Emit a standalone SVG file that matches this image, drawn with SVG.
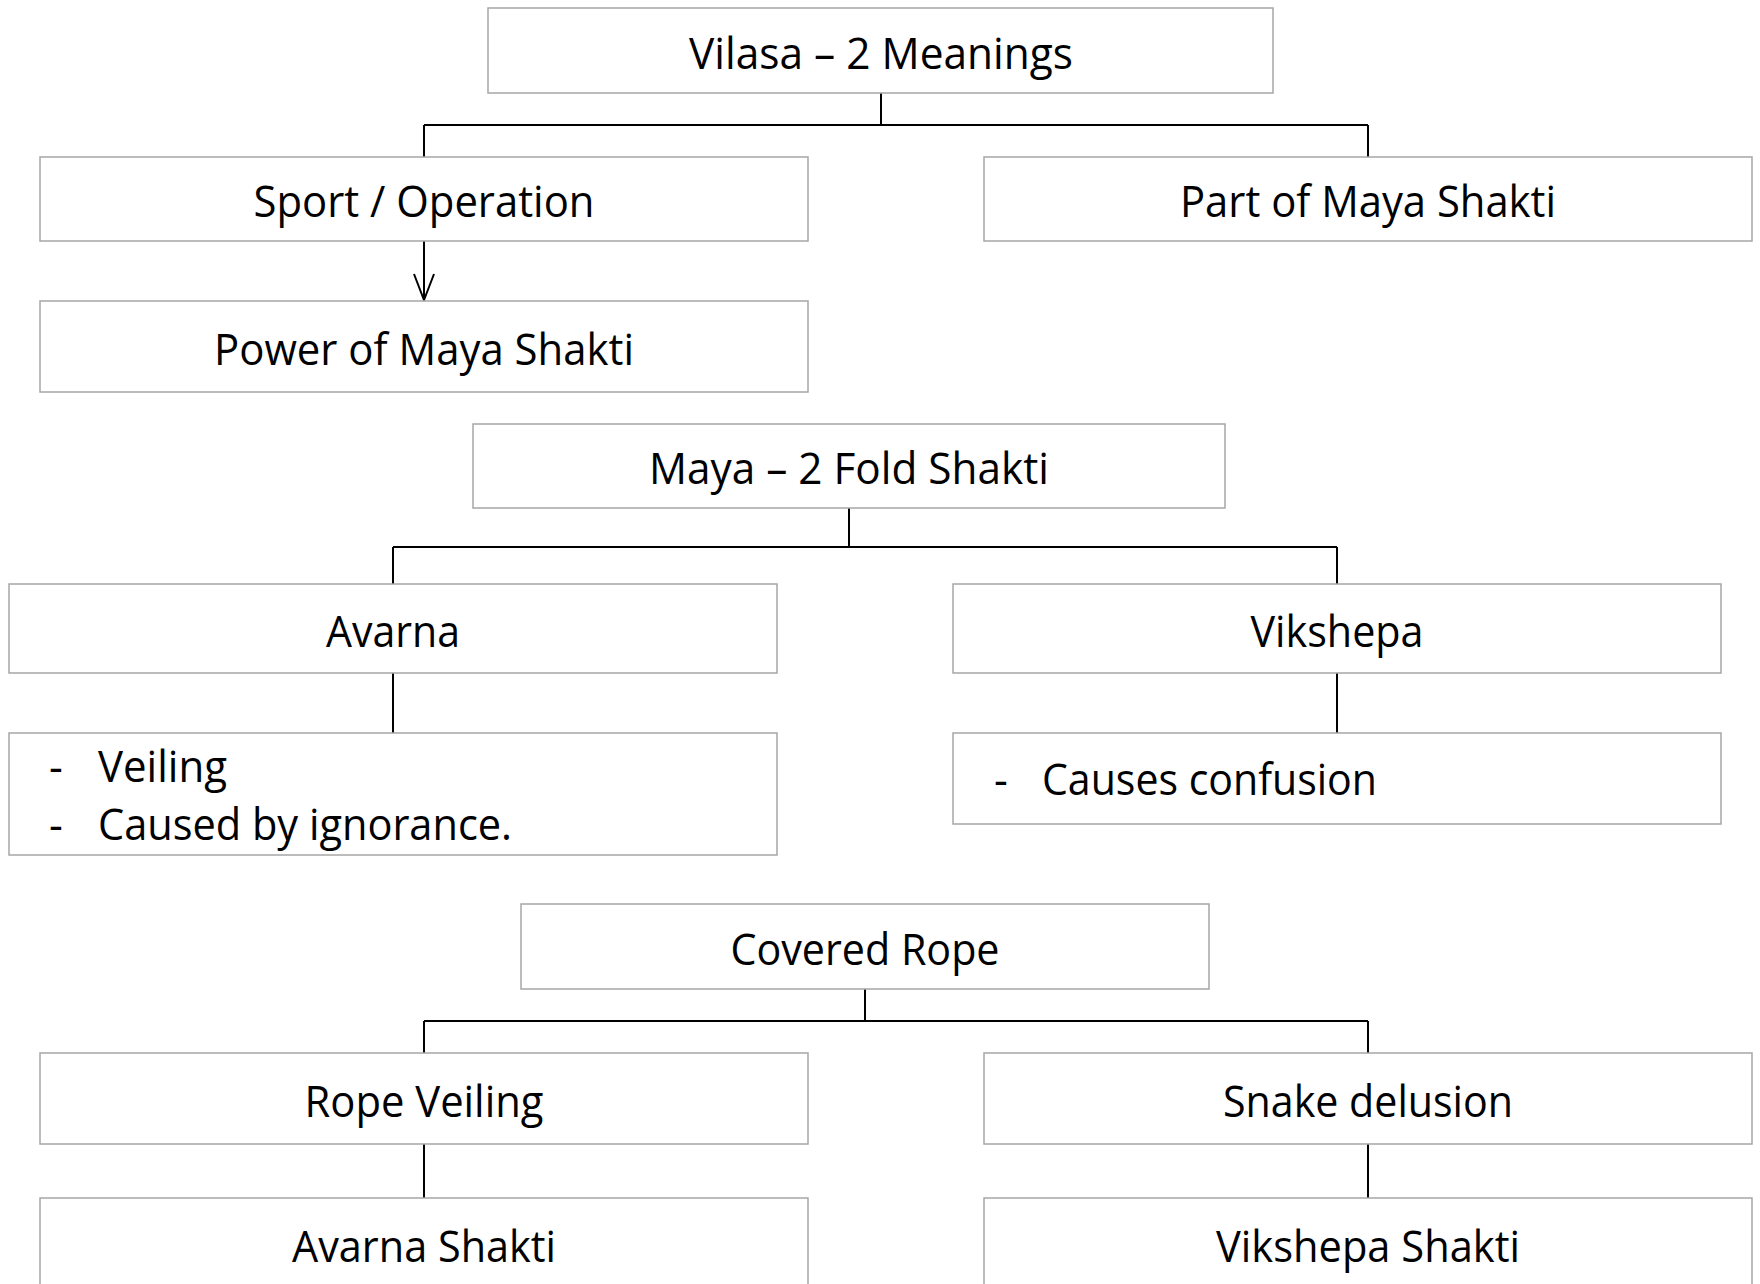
<svg xmlns="http://www.w3.org/2000/svg" width="1760" height="1284" viewBox="0 0 1760 1284">
  <style>
    .box { fill: #ffffff; stroke: #a6a6a6; stroke-width: 1.5; }
    .lbl { font-family: "Open Sans", "Liberation Sans", sans-serif; font-size: 43px; fill: #000000; }
    .mid { text-anchor: middle; }
    .wire { fill: none; stroke: #000000; stroke-width: 2; }
  </style>
  <defs>
    <!-- open chevron head, drawn along +x so it follows the line direction -->
    <marker id="vee" viewBox="0 0 30 24" refX="28" refY="12" markerWidth="30" markerHeight="24" markerUnits="userSpaceOnUse" orient="auto">
      <path d="M2,2 L28,12 L2,22" fill="none" stroke="#000000" stroke-width="2"/>
    </marker>
  </defs>
  <rect width="1760" height="1284" fill="#ffffff"/>

  <!-- connectors -->
  <g id="connectors">
    <path class="wire" d="M881,93 V125 M424,125 H1368 M424,125 V157 M1368,125 V157"/>
    <path class="wire" d="M424,241 V300" marker-end="url(#vee)"/>
    <path class="wire" d="M849,508 V547 M393,547 H1337 M393,547 V584 M1337,547 V584"/>
    <path class="wire" d="M393,673 V733 M1337,673 V733"/>
    <path class="wire" d="M865,989 V1021 M424,1021 H1368 M424,1021 V1053 M1368,1021 V1053"/>
    <path class="wire" d="M424,1144 V1198 M1368,1144 V1198"/>
  </g>

  <g id="vilasa">
    <rect class="box" x="488" y="8" width="785" height="85"/>
    <text class="lbl mid" x="881" y="69" textLength="384" lengthAdjust="spacingAndGlyphs">Vilasa – 2 Meanings</text>
  </g>
  <g id="sport">
    <rect class="box" x="40" y="157" width="768" height="84"/>
    <text class="lbl mid" x="424" y="217" textLength="341" lengthAdjust="spacingAndGlyphs">Sport / Operation</text>
  </g>
  <g id="part-of-maya">
    <rect class="box" x="984" y="157" width="768" height="84"/>
    <text class="lbl mid" x="1368" y="217" textLength="376" lengthAdjust="spacingAndGlyphs">Part of Maya Shakti</text>
  </g>
  <g id="power-of-maya">
    <rect class="box" x="40" y="301" width="768" height="91"/>
    <text class="lbl mid" x="424" y="365" textLength="420" lengthAdjust="spacingAndGlyphs">Power of Maya Shakti</text>
  </g>
  <g id="maya-two-fold">
    <rect class="box" x="473" y="424" width="752" height="84"/>
    <text class="lbl mid" x="849" y="484" textLength="400" lengthAdjust="spacingAndGlyphs">Maya – 2 Fold Shakti</text>
  </g>
  <g id="avarna">
    <rect class="box" x="9" y="584" width="768" height="89"/>
    <text class="lbl mid" x="393" y="647" textLength="134" lengthAdjust="spacingAndGlyphs">Avarna</text>
  </g>
  <g id="vikshepa">
    <rect class="box" x="953" y="584" width="768" height="89"/>
    <text class="lbl mid" x="1337" y="647" textLength="173" lengthAdjust="spacingAndGlyphs">Vikshepa</text>
  </g>
  <g id="avarna-notes">
    <rect class="box" x="9" y="733" width="768" height="122"/>
    <text class="lbl" x="49" y="782">-</text>
    <text class="lbl" x="98" y="782" textLength="129" lengthAdjust="spacingAndGlyphs">Veiling</text>
    <text class="lbl" x="49" y="840">-</text>
    <text class="lbl" x="98" y="840" textLength="414" lengthAdjust="spacingAndGlyphs">Caused by ignorance.</text>
  </g>
  <g id="vikshepa-notes">
    <rect class="box" x="953" y="733" width="768" height="91"/>
    <text class="lbl" x="994" y="795">-</text>
    <text class="lbl" x="1042" y="795" textLength="335" lengthAdjust="spacingAndGlyphs">Causes confusion</text>
  </g>
  <g id="covered-rope">
    <rect class="box" x="521" y="904" width="688" height="85"/>
    <text class="lbl mid" x="865" y="965" textLength="269" lengthAdjust="spacingAndGlyphs">Covered Rope</text>
  </g>
  <g id="rope-veiling">
    <rect class="box" x="40" y="1053" width="768" height="91"/>
    <text class="lbl mid" x="424" y="1117" textLength="239" lengthAdjust="spacingAndGlyphs">Rope Veiling</text>
  </g>
  <g id="snake-delusion">
    <rect class="box" x="984" y="1053" width="768" height="91"/>
    <text class="lbl mid" x="1368" y="1117" textLength="290" lengthAdjust="spacingAndGlyphs">Snake delusion</text>
  </g>
  <g id="avarna-shakti">
    <rect class="box" x="40" y="1198" width="768" height="100"/>
    <text class="lbl mid" x="424" y="1262" textLength="264" lengthAdjust="spacingAndGlyphs">Avarna Shakti</text>
  </g>
  <g id="vikshepa-shakti">
    <rect class="box" x="984" y="1198" width="768" height="100"/>
    <text class="lbl mid" x="1368" y="1262" textLength="304" lengthAdjust="spacingAndGlyphs">Vikshepa Shakti</text>
  </g>
</svg>
